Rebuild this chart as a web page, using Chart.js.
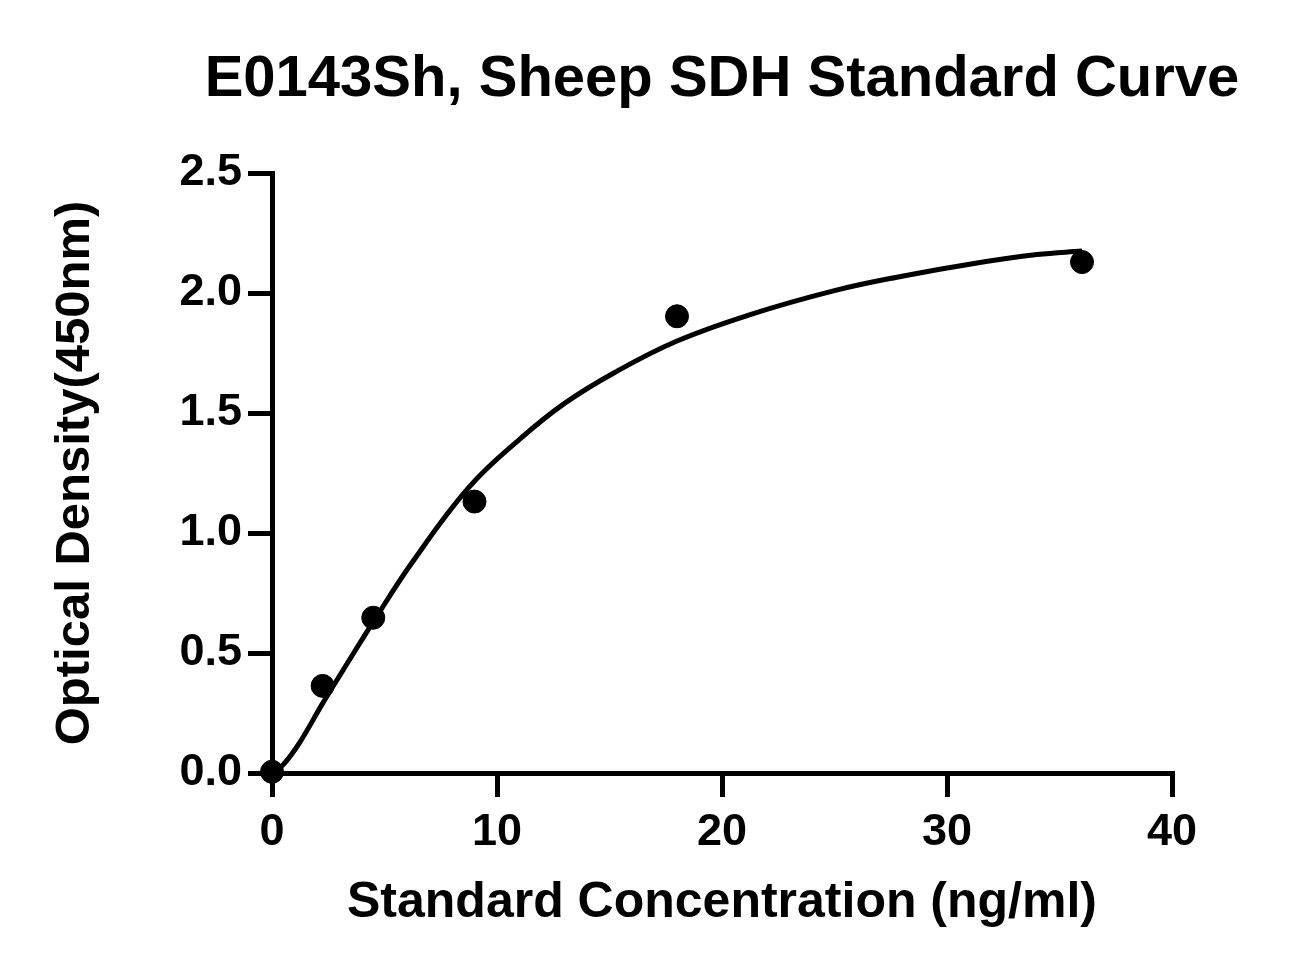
<!DOCTYPE html>
<html>
<head>
<meta charset="utf-8">
<script src="https://cdn.jsdelivr.net/npm/chart.js@4"></script>
<style>
    html, body { margin: 0; padding: 0; background: #fff; }
    #wrap { width: 1311px; height: 975px; }
</style>
</head>
<body>
<div id="wrap"><canvas id="standardCurve"></canvas></div>
<script>
const chartTitle = 'E0143Sh, Sheep SDH Standard Curve';
const xTitle = 'Standard Concentration (ng/ml)';
const yTitle = 'Optical Density(450nm)';

// measured standards
const concentrations = [0, 2.25, 4.5, 9, 18, 36];
const densities = [0.005, 0.363, 0.647, 1.131, 1.903, 2.129];

// fitted curve
const curveX = [0, 0.5, 1.25, 2.25, 3.5, 4.5, 6.25, 8.75, 11, 13, 15.25, 18, 21.25, 25, 28, 31, 34, 36];
const curveY = [0, 0.035, 0.13, 0.29, 0.48, 0.63, 0.88, 1.19, 1.39, 1.54, 1.67, 1.80, 1.91, 2.01, 2.07, 2.12, 2.16, 2.175];

const xTicks = [0, 10, 20, 30, 40];
const yTicks = [0, 0.5, 1.0, 1.5, 2.0, 2.5];

const fontFamily = '"Liberation Sans", Arial, sans-serif';

document.addEventListener('DOMContentLoaded', () => {
    const ctx = document.getElementById('standardCurve').getContext('2d');

    const curvePoints = curveX.map((x, i) => ({ x: x, y: curveY[i] }));
    const standardPoints = concentrations.map((x, i) => ({ x: x, y: densities[i] }));

    // title centred over the plot area, not the whole canvas
    const plotTitle = {
        id: 'plotTitle',
        afterDraw(chart) {
            const c = chart.ctx;
            const area = chart.chartArea;
            c.save();
            c.font = `bold 58px ${fontFamily}`;
            c.fillStyle = '#000';
            c.textAlign = 'center';
            c.textBaseline = 'alphabetic';
            c.fillText(chartTitle, (area.left + area.right) / 2, 96);
            c.restore();
        }
    };

    new Chart(ctx, {
        type: 'scatter',
        data: {
            datasets: [{
                label: 'Fit',
                data: curvePoints,
                showLine: true,
                borderColor: '#000',
                borderWidth: 5,
                pointRadius: 0,
                tension: 0.4,
                clip: false
            },
            {
                label: 'Standards',
                data: standardPoints,
                showLine: false,
                backgroundColor: '#000',
                borderColor: '#000',
                pointRadius: 11.5,
                clip: false
            }]
        },
        options: {
            responsive: true,
            maintainAspectRatio: false,
            animation: false,
            layout: {
                padding: { top: 173, right: 139, bottom: 0, left: 0 }
            },
            plugins: {
                legend: { display: false },
                tooltip: { enabled: false }
            },
            scales: {
                x: {
                    type: 'linear',
                    min: 0,
                    max: 40,
                    afterBuildTicks: (scale) => {
                        scale.ticks = xTicks.map(v => ({ value: v }));
                    },
                    afterFit: (scale) => { scale.height = 202; },
                    border: { display: true, color: '#000', width: 5 },
                    grid: {
                        drawOnChartArea: false,
                        drawTicks: true,
                        tickLength: 24,
                        color: '#000',
                        lineWidth: 5
                    },
                    ticks: {
                        color: '#000',
                        padding: 9,
                        maxRotation: 0,
                        font: { family: fontFamily, size: 45, weight: 'bold', lineHeight: 1.2 }
                    },
                    title: {
                        display: true,
                        text: xTitle,
                        color: '#000',
                        padding: { top: 0, bottom: 42 },
                        font: { family: fontFamily, size: 50, weight: 'bold', lineHeight: 1.2 }
                    }
                },
                y: {
                    type: 'linear',
                    min: 0,
                    max: 2.5,
                    afterBuildTicks: (scale) => {
                        scale.ticks = yTicks.map(v => ({ value: v }));
                    },
                    afterFit: (scale) => { scale.width = 272; },
                    border: { display: true, color: '#000', width: 5 },
                    grid: {
                        drawOnChartArea: false,
                        drawTicks: true,
                        tickLength: 24,
                        color: '#000',
                        lineWidth: 5
                    },
                    ticks: {
                        color: '#000',
                        padding: 6,
                        callback: (value) => value.toFixed(1),
                        font: { family: fontFamily, size: 45, weight: 'bold', lineHeight: 1.2 }
                    },
                    title: {
                        display: true,
                        text: yTitle,
                        color: '#000',
                        padding: { top: 46, bottom: 0 },
                        font: { family: fontFamily, size: 49, weight: 'bold', lineHeight: 1.2 }
                    }
                }
            }
        },
        plugins: [plotTitle]
    });
});
</script>
</body>
</html>
